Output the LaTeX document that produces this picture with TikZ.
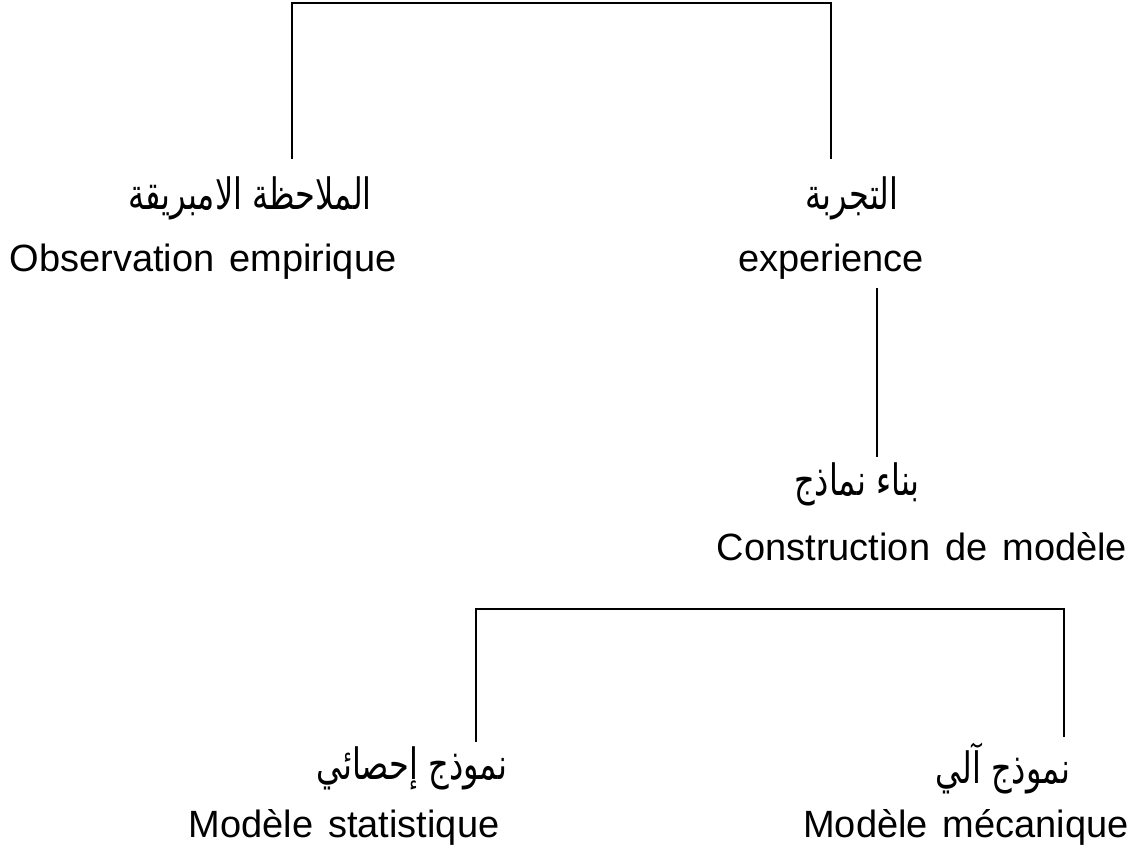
\documentclass[tikz,border=0pt]{standalone}
\usepackage{fontspec}
\setmainfont{Liberation Sans}
\newfontfamily\arabicfont[Script=Arabic]{DejaVu Sans}
\TeXXeTstate=1
\newcommand{\artxt}[1]{\scalebox{1}[1.35]{\arabicfont\beginR #1\endR}}
\newcommand{\frfont}{\fontsize{38}{44}\selectfont\spaceskip=15pt\relax}
\begin{document}
\begin{tikzpicture}[x=1pt,y=-1pt,
  fr/.style={inner sep=0pt,font=\frfont},
  ar/.style={inner sep=0pt,font=\fontsize{32}{40}\selectfont},
  link/.style={draw=black,line width=1.3pt}]
\useasboundingbox (0,0) rectangle (1137,857);
% nodes
\node[ar] (obsAr) at (250,198) {\artxt{الملاحظة الامبريقة}};
\node[fr] (obsFr) at (203,262) {Observation empirique};
\node[ar] (expAr) at (852,198) {\artxt{التجربة}};
\node[fr] (expFr) at (831,262) {experience};
\node[ar] (modAr) at (857,484) {\artxt{بناء نماذج}};
\node[fr] (modFr) at (922,547) {Construction de modèle};
\node[ar] (statAr) at (412,768) {\artxt{نموذج إحصائي}};
\node[fr] (statFr) at (344,827) {Modèle statistique};
\node[ar] (mecAr) at (1003,768) {\artxt{نموذج آلي}};
\node[fr] (mecFr) at (966,827) {Modèle mécanique};
% connector ends
\coordinate (obsTop) at (292,159);
\coordinate (expTop) at (831,159);
\coordinate (expBot) at (877,288);
\coordinate (modTop) at (877,457);
\coordinate (statTop) at (476,742);
\coordinate (mecTop) at (1064,737);
% connectors
\draw[link] (obsTop) -- (292,3) -- (831,3) -- (expTop);
\draw[link] (expBot) -- (modTop);
\draw[link] (statTop) -- (476,609) -- (1064,609) -- (mecTop);
\end{tikzpicture}
\end{document}
